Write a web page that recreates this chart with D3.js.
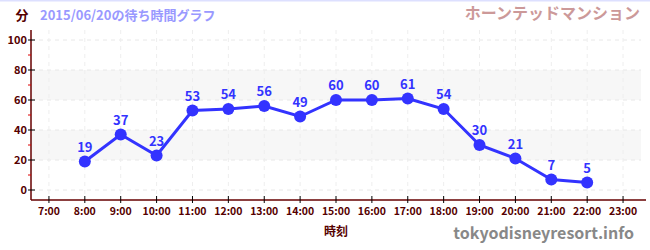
<!DOCTYPE html>
<html>
<head>
<meta charset="utf-8">
<script src="https://cdn.jsdelivr.net/npm/d3@7"></script>
<style>
  body { margin: 0; background: #fff; }
  svg { display: block; font-family: "Noto Sans CJK JP", "DejaVu Sans", sans-serif; }
</style>
</head>
<body>
<svg id="chart" width="650" height="250"></svg>
<script>
// 時刻と待ち時間
const hours = [8, 9, 10, 11, 12, 13, 14, 15, 16, 17, 18, 19, 20, 21, 22];
const waits = [19, 37, 23, 53, 54, 56, 49, 60, 60, 61, 54, 30, 21, 7, 5];
const xTicks = [7, 8, 9, 10, 11, 12, 13, 14, 15, 16, 17, 18, 19, 20, 21, 22, 23];
const yTicks = [0, 20, 40, 60, 80, 100];
const yMinor = [10, 30, 50, 70, 90];
const bands = [[20, 40], [60, 80]];

const svg = d3.select('#chart');
const plot = { left: 31, right: 641, top: 40, bottom: 190, axisY: 200 };

const x = d3.scaleLinear().domain([6.5, 23.5]).range([plot.left, plot.right]);
const y = d3.scaleLinear().domain([0, 100]).range([plot.bottom, plot.top]);

// 上の線
svg.append('line').attr('x1', 0).attr('x2', 650).attr('y1', 0.5).attr('y2', 0.5)
   .attr('stroke', '#dde0ff').attr('stroke-width', 2);

// 背景の帯
svg.selectAll('rect.band').data(bands).enter().append('rect')
   .attr('x', plot.left).attr('width', plot.right - plot.left)
   .attr('y', d => y(d[1])).attr('height', d => y(d[0]) - y(d[1]))
   .attr('fill', '#f7f7f7');

// グリッド
svg.selectAll('line.hg').data(yTicks).enter().append('line')
   .attr('x1', plot.left).attr('x2', plot.right)
   .attr('y1', d => y(d)).attr('y2', d => y(d))
   .attr('stroke', '#e8e8e8').attr('stroke-dasharray', '4,4');
svg.selectAll('line.vg').data(xTicks).enter().append('line')
   .attr('x1', d => x(d)).attr('x2', d => x(d))
   .attr('y1', 30).attr('y2', plot.axisY)
   .attr('stroke', '#eeeeee').attr('stroke-dasharray', '4,4');

// 軸
svg.append('line').attr('x1', plot.left).attr('x2', plot.left).attr('y1', 30).attr('y2', plot.axisY)
   .attr('stroke', '#600').attr('stroke-width', 1.5);
svg.append('line').attr('x1', plot.left).attr('x2', plot.right + 5).attr('y1', plot.axisY).attr('y2', plot.axisY)
   .attr('stroke', '#600').attr('stroke-width', 1.5);

svg.selectAll('line.ym').data(yMinor).enter().append('line')
   .attr('x1', plot.left - 3).attr('x2', plot.left)
   .attr('y1', d => y(d)).attr('y2', d => y(d))
   .attr('stroke', '#d00');
svg.selectAll('line.yt').data(yTicks).enter().append('line')
   .attr('x1', plot.left - 3).attr('x2', plot.left + 4)
   .attr('y1', d => y(d)).attr('y2', d => y(d))
   .attr('stroke', '#000');
svg.selectAll('text.yl').data(yTicks).enter().append('text')
   .attr('x', plot.left - 4).attr('y', d => y(d) + 4)
   .attr('text-anchor', 'end').attr('font-size', 11).attr('font-weight', 'bold')
   .attr('fill', '#500').text(d => d);

svg.selectAll('line.xt').data(xTicks).enter().append('line')
   .attr('x1', d => x(d)).attr('x2', d => x(d))
   .attr('y1', plot.axisY - 4).attr('y2', plot.axisY + 3)
   .attr('stroke', '#000');
svg.selectAll('text.xl').data(xTicks).enter().append('text')
   .attr('x', d => x(d)).attr('y', plot.axisY + 15)
   .attr('text-anchor', 'middle').attr('font-size', 10.5).attr('font-weight', 'bold')
   .attr('fill', '#500').text(d => d + ':00');

// 折れ線
const line = d3.line().x((d, i) => x(hours[i])).y(d => y(d));
svg.append('path').datum(waits).attr('d', line)
   .attr('fill', 'none').attr('stroke', '#3333ff').attr('stroke-width', 3);
svg.selectAll('circle').data(waits).enter().append('circle')
   .attr('cx', (d, i) => x(hours[i])).attr('cy', d => y(d)).attr('r', 6)
   .attr('fill', '#3333ff');
svg.selectAll('text.vl').data(waits).enter().append('text')
   .attr('x', (d, i) => x(hours[i])).attr('y', d => y(d) - 10)
   .attr('text-anchor', 'middle').attr('font-size', 13).attr('font-weight', 'bold')
   .attr('fill', '#3333ff').text(d => d);

// タイトル
svg.append('text').attr('x', 22).attr('y', 20).attr('text-anchor', 'middle')
   .attr('font-size', 13).attr('font-weight', 'bold').attr('fill', '#500').text('分');
svg.append('text').attr('x', 40).attr('y', 20)
   .attr('font-size', 13).attr('font-weight', 'bold').attr('fill', '#9999ff')
   .text('2015/06/20の待ち時間グラフ');
svg.append('text').attr('x', 640).attr('y', 19).attr('text-anchor', 'end')
   .attr('font-size', 16).attr('font-weight', 'bold').attr('fill', '#cc9999')
   .text('ホーンテッドマンション');
svg.append('text').attr('x', 336).attr('y', 236).attr('text-anchor', 'middle')
   .attr('font-size', 12).attr('font-weight', 'bold').attr('fill', '#500').text('時刻');
svg.append('text').attr('x', 634).attr('y', 239).attr('text-anchor', 'end')
   .attr('font-size', 16).attr('font-weight', 'bold').attr('fill', '#888')
   .text('tokyodisneyresort.info');
</script>
</body>
</html>
